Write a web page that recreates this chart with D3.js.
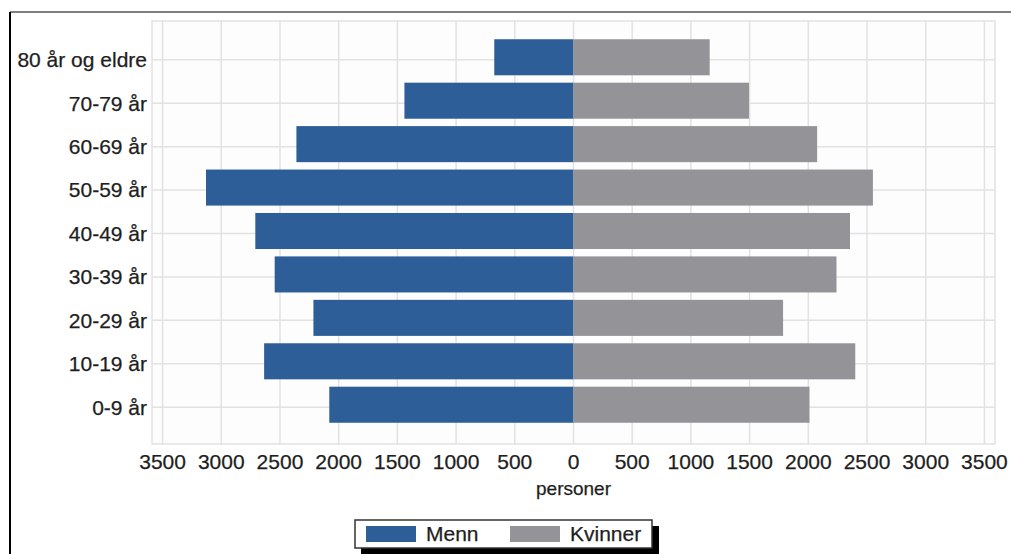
<!DOCTYPE html>
<html>
<head>
<meta charset="utf-8">
<script src="https://cdn.jsdelivr.net/npm/d3@7"></script>
<style>
  body { margin: 0; background: white; }
  text { font-family: "Liberation Sans", Arial, sans-serif; fill: #1e1e1e; stroke: #1e1e1e; stroke-width: 0.25px; }
</style>
</head>
<body>
<div id="chart"></div>
<script>
// age groups, top to bottom
let categories = ["80 år og eldre", "70-79 år", "60-69 år", "50-59 år", "40-49 år", "30-39 år", "20-29 år", "10-19 år", "0-9 år"];
let menn = [675, 1440, 2360, 3130, 2710, 2545, 2215, 2635, 2080];
let kvinner = [1160, 1495, 2075, 2550, 2355, 2240, 1785, 2400, 2010];
let tickValues = [-3500, -3000, -2500, -2000, -1500, -1000, -500, 0, 500, 1000, 1500, 2000, 2500, 3000, 3500];
let seriesNames = ["Menn", "Kvinner"];
let seriesColors = ["#2d5e98", "#949397"];

var width = 1011, height = 554;
var plot = {left: 152, right: 995, top: 21, bottom: 444};

var svg = d3.select("#chart")
  .append("svg")
    .attr("width", width)
    .attr("height", height);

// outer border (top and left only)
svg.append("line")
  .attr("x1", 10).attr("x2", width).attr("y1", 12).attr("y2", 12)
  .attr("stroke", "#555").attr("stroke-width", 1.5);
svg.append("line")
  .attr("x1", 10).attr("x2", 10).attr("y1", 12).attr("y2", height)
  .attr("stroke", "#000").attr("stroke-width", 2);

var x = d3.scaleLinear()
  .domain([-3590, 3590])
  .range([plot.left, plot.right]);

var y = d3.scaleBand()
  .domain(categories)
  .range([21, 441])
  .paddingInner(0.17)
  .paddingOuter(0.42);

// plot frame
svg.append("rect")
  .attr("x", plot.left).attr("y", plot.top)
  .attr("width", plot.right - plot.left).attr("height", plot.bottom - plot.top)
  .attr("fill", "#fdfdfd").attr("stroke", "#e2e2e2").attr("stroke-width", 1.5);

// vertical grid
svg.append("g")
  .selectAll("line")
  .data(tickValues)
  .enter()
  .append("line")
    .attr("x1", d => x(d)).attr("x2", d => x(d))
    .attr("y1", plot.top).attr("y2", plot.bottom)
    .attr("stroke", "#e2e2e2").attr("stroke-width", 1.5);

// horizontal grid at categories
var rowY = function(c) { return y(c) + y.bandwidth() / 2 + 2.5; };
svg.append("g")
  .selectAll("line")
  .data(categories)
  .enter()
  .append("line")
    .attr("x1", plot.left).attr("x2", plot.right)
    .attr("y1", d => rowY(d)).attr("y2", d => rowY(d))
    .attr("stroke", "#e2e2e2").attr("stroke-width", 1.5);

// bars
svg.append("g")
  .selectAll("rect")
  .data(menn)
  .enter()
  .append("rect")
    .attr("x", d => x(-d))
    .attr("y", (d, i) => y(categories[i]))
    .attr("width", d => x(0) - x(-d))
    .attr("height", y.bandwidth())
    .attr("fill", seriesColors[0]);

svg.append("g")
  .selectAll("rect")
  .data(kvinner)
  .enter()
  .append("rect")
    .attr("x", x(0))
    .attr("y", (d, i) => y(categories[i]))
    .attr("width", d => x(d) - x(0))
    .attr("height", y.bandwidth())
    .attr("fill", seriesColors[1]);

// y labels
svg.append("g")
  .selectAll("text")
  .data(categories)
  .enter()
  .append("text")
    .attr("x", 147)
    .attr("y", d => rowY(d))
    .attr("dy", "0.35em")
    .attr("text-anchor", "end")
    .style("font-size", "21px")
    .text(d => d);

// x tick labels
svg.append("g")
  .selectAll("text")
  .data(tickValues)
  .enter()
  .append("text")
    .attr("x", d => x(d))
    .attr("y", 469)
    .attr("text-anchor", "middle")
    .style("font-size", "21px")
    .text(d => Math.abs(d));

svg.append("text")
  .attr("x", x(0))
  .attr("y", 495)
  .attr("text-anchor", "middle")
  .style("font-size", "19px")
  .text("personer");

// legend
var legend = svg.append("g");
legend.append("rect")
  .attr("x", 361).attr("y", 526).attr("width", 298).attr("height", 30)
  .attr("fill", "#000");
legend.append("rect")
  .attr("x", 355).attr("y", 520).attr("width", 297).attr("height", 28)
  .attr("fill", "white").attr("stroke", "#333").attr("stroke-width", 1.5);

var legendX = [366, 510];
var items = legend.selectAll(".item")
  .data(seriesNames)
  .enter()
  .append("g")
    .attr("class", "item");
items.append("rect")
  .attr("x", (d, i) => legendX[i]).attr("y", 526)
  .attr("width", 50).attr("height", 16)
  .attr("fill", (d, i) => seriesColors[i]);
items.append("text")
  .attr("x", (d, i) => legendX[i] + 60)
  .attr("y", 541)
  .style("font-size", "21px")
  .text(d => d);
</script>
</body>
</html>
